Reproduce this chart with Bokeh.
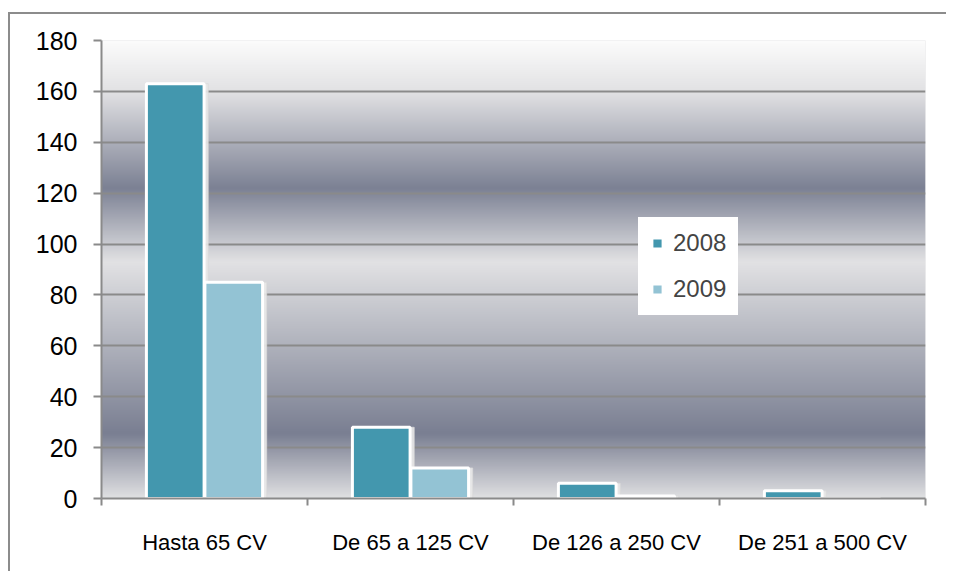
import numpy as np
from bokeh.plotting import figure
from bokeh.models import (ColumnDataSource, Range1d, FixedTicker, Legend, LegendItem,
                          InlineStyleSheet)
from bokeh.transform import dodge
from bokeh.embed import file_html
from bokeh.resources import INLINE

# ---- data ----
categories = ["Hasta 65 CV", "De 65 a 125 CV", "De 126 a 250 CV", "De 251 a 500 CV"]
values_2008 = [163, 28, 6, 3]
values_2009 = [85, 12, 1, 0]
series_names = ["2008", "2009"]
y_ticks = [0, 20, 40, 60, 80, 100, 120, 140, 160, 180]

x_pos = [i + 0.5 for i in range(len(categories))]
src = ColumnDataSource(dict(x=x_pos, v2008=values_2008, v2009=values_2009))

# ---- figure ----
p = figure(width=946, height=571, output_backend="svg", toolbar_location=None,
           x_range=Range1d(0, len(categories)), y_range=Range1d(0, 180),
           min_border_left=101, min_border_top=40, min_border_right=21,
           min_border_bottom=73, background_fill_color="#e0e0e2",
           border_fill_alpha=0, outline_line_color=None)

# outer chart border (only left and top edges visible in the reference)
p.stylesheets = [InlineStyleSheet(css="""
:host {
  background:
    linear-gradient(#8c8c8c, #8c8c8c) 8px 12px / 940px 2px no-repeat,
    linear-gradient(#8c8c8c, #8c8c8c) 8px 12px / 2px 560px no-repeat,
    #ffffff;
}
""")]

# gradient background of plot area (style only)
stops_v = [0, 25.5, 93, 122, 160, 180]
stops_c = [(225, 225, 227), (122, 127, 146), (226, 226, 228), (124, 129, 148),
           (226, 226, 228), (252, 252, 252)]
N = 720
vv = np.linspace(0, 180, N)
img = np.empty((N, 1), dtype=np.uint32)
view = img.view(dtype=np.uint8).reshape((N, 1, 4))
for k in range(3):
    view[:, 0, k] = np.interp(vv, stops_v, [c[k] for c in stops_c]).astype(np.uint8)
view[:, 0, 3] = 255
p.image_rgba(image=[img], x=0, y=0, dw=len(categories), dh=180, level="image")

# grid
p.xgrid.grid_line_color = None
p.ygrid.ticker = FixedTicker(ticks=y_ticks)
p.ygrid.grid_line_color = "#8a8a8a"
p.ygrid.grid_line_width = 2

off = 0.142
bw = 0.28
c08 = "#4397ae"
c09 = "#93c3d4"

# soft shadows
for col, o in (("v2008", -off), ("v2009", off)):
    p.vbar(x=dodge("x", o + 0.014, range=p.x_range), top=col, width=bw + 0.012,
           bottom=0, source=src, fill_color="#e9e9e9", fill_alpha=0.9,
           line_color="#d9d9d9", line_alpha=0.7, line_width=1)

r08 = p.vbar(x=dodge("x", -off, range=p.x_range), top="v2008", width=bw, bottom=0,
             source=src, fill_color=c08, line_color="white", line_width=3)
r09 = p.vbar(x=dodge("x", off, range=p.x_range), top="v2009", width=bw, bottom=0,
             source=src, fill_color=c09, line_color="white", line_width=3)

# axes
ya = p.yaxis[0]
ya.ticker = FixedTicker(ticks=y_ticks)
ya.axis_line_color = "#8a8a8a"
ya.axis_line_width = 2
ya.major_tick_line_color = "#8a8a8a"
ya.major_tick_line_width = 2
ya.major_tick_out = 8
ya.major_tick_in = 0
ya.minor_tick_line_color = None
ya.major_label_text_font = "Liberation Sans"
ya.major_label_text_font_size = "25px"
ya.major_label_text_color = "black"
ya.major_label_standoff = 16

xa = p.xaxis[0]
xa.ticker = FixedTicker(ticks=x_pos, minor_ticks=list(range(len(categories) + 1)))
xa.major_label_overrides = {xp: c for xp, c in zip(x_pos, categories)}
xa.axis_line_color = "#8a8a8a"
xa.axis_line_width = 2
xa.major_tick_line_color = None
xa.major_tick_out = 0
xa.major_tick_in = 0
xa.minor_tick_line_color = "#8a8a8a"
xa.minor_tick_line_width = 2
xa.minor_tick_out = 7
xa.minor_tick_in = 0
xa.major_label_text_font = "Liberation Sans"
xa.major_label_text_font_size = "22px"
xa.major_label_text_color = "black"
xa.major_label_standoff = 24

# legend
legend = Legend(items=[LegendItem(label=series_names[0], renderers=[r08]),
                       LegendItem(label=series_names[1], renderers=[r09])],
                location=(537, 183), orientation="vertical",
                background_fill_color="white", background_fill_alpha=1.0,
                border_line_color="white", border_line_width=1,
                label_text_font="Liberation Sans",
                label_text_font_size="24px", glyph_width=14, glyph_height=14,
                label_height=20, spacing=18, padding=11, margin=0,
                label_standoff=9)
p.add_layout(legend, "center")

open("out.html", "w").write(file_html(p, INLINE))
